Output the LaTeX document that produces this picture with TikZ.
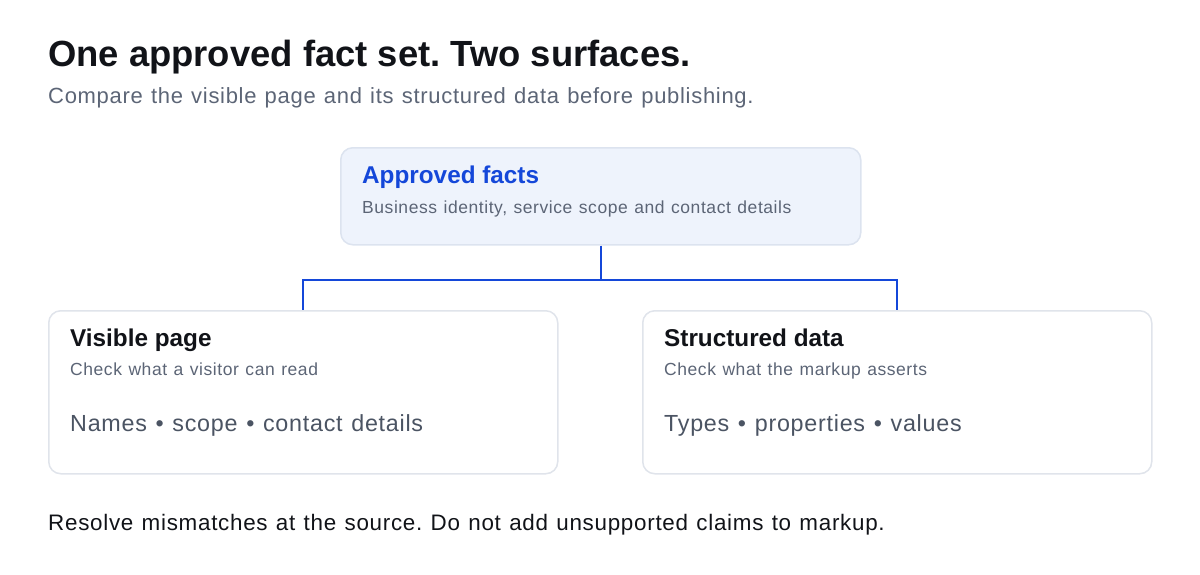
\documentclass[tikz,border=0pt]{standalone}
\usepackage{fontspec}
\setmainfont{Liberation Sans}
\newfontfamily\widesans[LetterSpace=3.2,WordSpace=1.2]{Liberation Sans}
\frenchspacing
\usetikzlibrary{positioning}

\definecolor{headink}{HTML}{111318}
\definecolor{subink}{HTML}{5C6576}
\definecolor{itemink}{HTML}{4B5463}
\definecolor{factblue}{HTML}{1447D9}
\definecolor{factfill}{HTML}{EEF3FC}
\definecolor{factline}{HTML}{DCE3EF}
\definecolor{cardline}{HTML}{E0E4EB}

\begin{document}
\begin{tikzpicture}[x=1pt,y=-1pt,
    card/.style={draw=cardline, line width=1.5pt, rounded corners=12pt, fill=white, anchor=north west, inner sep=0pt},
    txt/.style={anchor=base west, inner sep=0pt},
    head/.style={txt, font=\fontsize{24.3}{28}\selectfont\bfseries, text=headink},
    note/.style={txt, font=\widesans\fontsize{17.5}{20}\selectfont, text=subink},
    items/.style={txt, font=\widesans\fontsize{23.3}{26}\selectfont, text=itemink},
    link/.style={draw=factblue, line width=2pt}]

	%Canvas of 1200 x 574, coordinates in pixels from the top left corner
	\useasboundingbox (0,0) rectangle (1200,574);

	%Card sizes: w x h of the two lower cards, W x H of the top card
	\pgfmathsetmacro{\w}{509}
	\pgfmathsetmacro{\h}{163}
	\pgfmathsetmacro{\W}{520}
	\pgfmathsetmacro{\H}{97}

	%Heading and sub line
	\node[txt, font=\fontsize{36.4}{40}\selectfont\bfseries, text=headink] (title) at (48,66) {One approved fact set. Two surfaces.};
	\node[txt, font=\widesans\fontsize{22}{24}\selectfont, text=subink] (sub) at (48,103) {Compare the visible page and its structured data before publishing.};

	%The approved fact set
	\node[card, draw=factline, fill=factfill, minimum width=\W pt, minimum height=\H pt] (facts) at (340,147) {};
	\node[head, text=factblue] (factshead) at (362,183) {Approved facts};
	\node[note] (factsnote) at (362,213) {Business identity, service scope and contact details};

	%The two surfaces
	\node[card, minimum width=\w pt, minimum height=\h pt] (visible) at (48,310) {};
	\node[card, minimum width=\w pt, minimum height=\h pt] (structured) at (642,310) {};

	\node[head] (visiblehead) at (70,346) {Visible page};
	\node[note] (visiblenote) at (70,375) {Check what a visitor can read};
	\node[items] (visibleitems) at (70,431) {Names \textbullet\ scope \textbullet\ contact details};

	\node[head] (structuredhead) at (664,346) {Structured data};
	\node[note] (structurednote) at (664,375) {Check what the markup asserts};
	\node[items] (structureditems) at (664,431) {Types \textbullet\ properties \textbullet\ values};

	%Connectors from the fact set down to both surfaces
	\draw[link] (facts.south) -- ++(0,34) -| (visible.north);
	\draw[link] (facts.south) ++(0,34) -| (structured.north);

	%Closing line
	\node[txt, font=\widesans\fontsize{22.4}{24}\selectfont, text=headink] (foot) at (48,530) {Resolve mismatches at the source. Do not add unsupported claims to markup.};

\end{tikzpicture}
\end{document}
